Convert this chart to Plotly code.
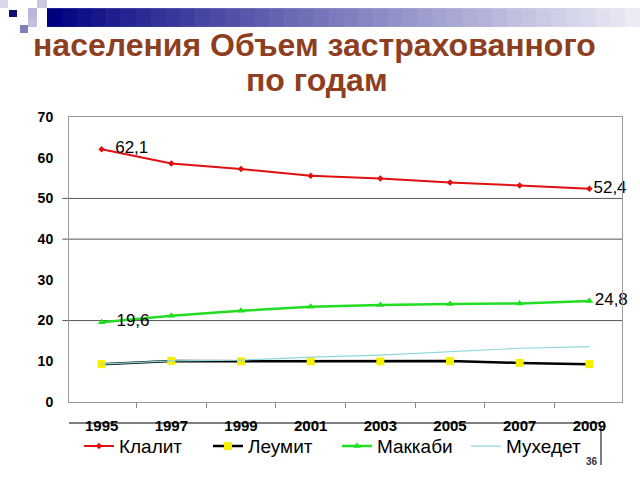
import plotly.graph_objects as go

years = ["1995", "1997", "1999", "2001", "2003", "2005", "2007", "2009"]
klalit = [62.1, 58.6, 57.2, 55.6, 54.9, 53.9, 53.2, 52.4]
leumit = [9.3, 10.1, 10.0, 10.0, 10.0, 10.1, 9.6, 9.3]
maccabi = [19.6, 21.2, 22.4, 23.4, 23.8, 24.1, 24.2, 24.8]
meuhedet = [9.3, 10.1, 10.3, 11.0, 11.5, 12.3, 13.2, 13.6]
names = ["Клалит", "Леумит", "Маккаби", "Мухедет"]
y_ticks = [0, 10, 20, 30, 40, 50, 60, 70]
gridline_values = [20, 40, 50]
title_lines = ["населения Объем застрахованного", "по годам"]
slide_number = "36"


def end_labels(vals):
    out = [""] * len(vals)
    out[0] = "\u00a0\u00a0" + f"{vals[0]:.1f}".replace(".", ",")
    out[-1] = f"{vals[-1]:.1f}".replace(".", ",")
    return out


FONT = "Liberation Sans, Arial"
fig = go.Figure()
label_font = dict(family=FONT, size=17, color="black")

fig.add_trace(go.Scatter(
    x=years, y=klalit, name=names[0], mode="lines+markers+text",
    line=dict(color="#e01010", width=2),
    marker=dict(symbol="diamond", size=5, color="#e01010"),
    text=end_labels(klalit), textposition="middle right", textfont=label_font,
    cliponaxis=False,
))
fig.add_trace(go.Scatter(
    x=years, y=leumit, name=names[1], mode="lines+markers",
    line=dict(color="black", width=2.5),
    marker=dict(symbol="square", size=8, color="#f5f000"),
))
fig.add_trace(go.Scatter(
    x=years, y=maccabi, name=names[2], mode="lines+markers+text",
    line=dict(color="#22dd22", width=2.5),
    marker=dict(symbol="triangle-up", size=7, color="#22dd22"),
    text=end_labels(maccabi), textposition="middle right", textfont=label_font,
    cliponaxis=False,
))
fig.add_trace(go.Scatter(
    x=years, y=meuhedet, name=names[3], mode="lines",
    line=dict(color="#8fd6d6", width=1.2),
))

shapes = []
for g in gridline_values:
    shapes.append(dict(type="line", xref="paper", yref="y", x0=-0.012, x1=1, y0=g, y1=g,
                       line=dict(color="#555555", width=1), layer="below"))

# header gradient bar
n = 40
x_start, x_end = -0.0398, 1.0325
c0 = (0, 0, 128)
c1 = (235, 235, 245)
for i in range(n):
    t = i / (n - 1)
    r = int(c0[0] + (c1[0] - c0[0]) * t ** 0.9)
    gg = int(c0[1] + (c1[1] - c0[1]) * t ** 0.9)
    b = int(c0[2] + (c1[2] - c0[2]) * t ** 0.9)
    xa = x_start + (x_end - x_start) * i / n
    xb = x_start + (x_end - x_start) * (i + 1) / n + 0.001
    shapes.append(dict(type="rect", xref="paper", yref="paper", x0=xa, x1=xb,
                       y0=1.316, y1=1.382, line=dict(width=0),
                       fillcolor=f"rgb({r},{gg},{b})"))


def px_rect(x0, y0, x1, y1, color):
    return dict(type="rect", xref="paper", yref="paper",
                x0=(x0 - 69) / 553, x1=(x1 - 69) / 553,
                y0=(402 - y1) / 285, y1=(402 - y0) / 285,
                line=dict(width=0), fillcolor=color)


shapes += [
    px_rect(9, 10, 17, 17, "#101070"),
    px_rect(28, 8, 37, 18, "#b8b8d8"),
    px_rect(37, 0, 47, 8, "#c8c8e0"),
    px_rect(20, 25, 28, 33, "#8080b8"),
    px_rect(28, 18, 37, 27, "#c0c0dc"),
    px_rect(0, 0, 8, 8, "#d8d8ea"),
]
shapes.append(dict(type="line", xref="paper", yref="paper", x0=0.0, x1=0.962,
                   y0=-0.0737, y1=-0.0737, line=dict(color="black", width=1)))
shapes.append(dict(type="line", xref="paper", yref="paper", x0=0.962, x1=0.962,
                   y0=-0.0877, y1=-0.221, line=dict(color="black", width=1)))

title_font = dict(family=FONT, size=32, color="#8e3f22", weight="bold")
annotations = [
    dict(text=title_lines[0], xref="paper", yref="paper", x=0.4448, y=(402 - 45) / 285,
         showarrow=False, xanchor="center", yanchor="middle", font=title_font),
    dict(text=title_lines[1], xref="paper", yref="paper", x=0.4485, y=(402 - 80) / 285,
         showarrow=False, xanchor="center", yanchor="middle", font=title_font),
    dict(text=slide_number, xref="paper", yref="paper",
         x=0.945, y=-0.21, showarrow=False, xanchor="center", yanchor="middle",
         font=dict(family=FONT, size=10, color="#333333", weight="bold")),
]

fig.update_layout(
    width=640, height=480,
    margin=dict(l=69, r=18, t=117, b=78),
    paper_bgcolor="white", plot_bgcolor="white",
    showlegend=True,
    legend=dict(orientation="h", x=0.018, xanchor="left", y=-0.155, yanchor="middle",
                font=dict(family=FONT, size=19, color="black"),
                entrywidth=84, entrywidthmode="pixels", traceorder="normal",
                bgcolor="rgba(0,0,0,0)"),
    shapes=shapes,
    annotations=annotations,
)
fig.update_xaxes(type="category", tickson="boundaries", ticks="outside", ticklen=5,
                 tickcolor="#888888", showgrid=False, showline=True, linecolor="#999999",
                 mirror=True, tickfont=dict(family=FONT, size=15, color="black", weight="bold"),
                 ticklabelstandoff=10)
fig.update_yaxes(range=[0, 70], tickvals=y_ticks, showgrid=False, showline=True,
                 linecolor="#999999", mirror=True, zeroline=False, ticks="",
                 tickfont=dict(family=FONT, size=14, color="black", weight="bold"),
                 ticklabelstandoff=12)

fig.write_html("out.html", post_script="document.body.style.margin='0';",
               config={"displayModeBar": False})
